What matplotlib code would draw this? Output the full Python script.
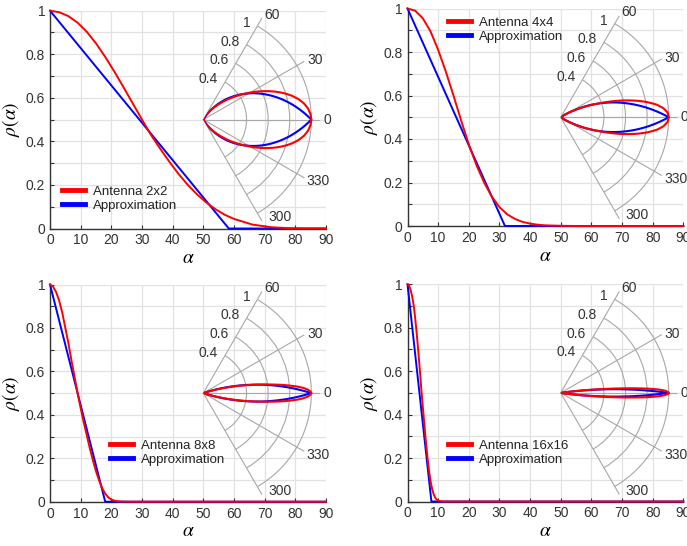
import numpy as np
import matplotlib
matplotlib.use('Agg')
import matplotlib.pyplot as plt
from matplotlib.ticker import MultipleLocator

plt.rcParams['font.family'] = ['Liberation Sans', 'DejaVu Sans']
plt.rcParams['mathtext.fontset'] = 'stix'

# ---------------- data ----------------
antenna_labels = ['Antenna 2x2', 'Antenna 4x4', 'Antenna 8x8', 'Antenna 16x16']
approx_label = 'Approximation'

alpha_2x2 = [0, 3, 6, 9, 12, 15, 18, 21, 24, 27, 30, 33, 36, 39, 42, 45, 48, 51, 54, 57, 60,
             66, 72, 78, 84, 90]
rho_2x2 = [1.0, 0.993, 0.975, 0.945, 0.903, 0.85, 0.788, 0.72, 0.648, 0.574, 0.500, 0.428,
           0.365, 0.305, 0.249, 0.199, 0.156, 0.119, 0.088, 0.063, 0.044,
           0.018, 0.006, 0.001, 0.0, 0.0]

alpha_4x4 = [0, 2.5, 5, 7.5, 10, 12.5, 15, 17.5, 20, 22.5, 25, 27.5, 30, 32.5, 35, 37.5, 40,
             42.5, 45, 50, 55, 90]
rho_4x4 = [1.0, 0.99, 0.955, 0.895, 0.81, 0.71, 0.60, 0.485, 0.375, 0.28, 0.20, 0.135, 0.087,
           0.054, 0.033, 0.019, 0.011, 0.006, 0.003, 0.001, 0.0, 0.0]

alpha_8x8 = [0, 1, 2, 3, 4, 5, 6, 7, 8, 9, 10, 11, 12, 13, 14, 15, 16, 17, 18, 19, 20, 21, 22,
             24, 26, 90]
rho_8x8 = [1.0, 0.99, 0.965, 0.925, 0.87, 0.80, 0.73, 0.65, 0.575, 0.50, 0.43, 0.365, 0.305,
           0.245, 0.19, 0.14, 0.098, 0.063, 0.037, 0.02, 0.01, 0.005, 0.002,
           0.0005, 0.0, 0.0]

alpha_16x16 = [0, 0.5, 1, 1.5, 2, 2.5, 3, 3.5, 4, 4.5, 5, 5.5, 6, 6.5, 7, 7.5, 8, 8.5, 9, 9.5,
               10, 11, 12, 90]
rho_16x16 = [1.0, 0.995, 0.975, 0.945, 0.905, 0.845, 0.775, 0.695, 0.61, 0.52, 0.435, 0.355,
             0.275, 0.205, 0.145, 0.095, 0.06, 0.035, 0.019, 0.009, 0.004, 0.001, 0.0, 0.0]

# linear approximation: 1 at alpha=0, reaching 0 at alpha_zero, then 0 up to 90
approx_zero = [58.3, 31.8, 18.0, 7.8]
approx_rho = [1.0, 0.0, 0.0]

alphas = [alpha_2x2, alpha_4x4, alpha_8x8, alpha_16x16]
rhos = [rho_2x2, rho_4x4, rho_8x8, rho_16x16]

x_ticks = [0, 10, 20, 30, 40, 50, 60, 70, 80, 90]
y_ticks = [0, 0.2, 0.4, 0.6, 0.8, 1.0]
y_ticklabels = ['0', '0.2', '0.4', '0.6', '0.8', '1']
polar_theta_grid = [-30, 0, 30]
polar_theta_labels = ['300', '330', '0', '30', '60']
polar_r_grid = [0.4, 0.6, 0.8, 1.0]
polar_r_labels = ['0.4', '0.6', '0.8', '1']

# ---------------- layout ----------------
W, H = 687, 546
fig = plt.figure(figsize=(W / 100, H / 100), dpi=100)

panel_px = [(50, 10.7, 326, 228.5), (407.5, 8.5, 683.3, 226),
            (50, 284.5, 326, 501.7), (407.5, 284.3, 683.3, 501.5)]
legend_anchor = [(0.0435, 0.198), (0.147, 0.964), (0.217, 0.287), (0.147, 0.286)]
R1 = 108.0     # pixel radius of r = 1 in polar inset
RMAX = 1.08
theta_label_pos = [(-51.8, 1.15), (-28.2, 1.21), (0, 1.145), (27.9, 1.17), (56.8, 1.16)]

RED = '#ff0000'
BLUE = '#0000ff'
PGRID = '#a8a8a8'

for i in range(4):
    l, t, r, b = panel_px[i]
    ax = fig.add_axes([l / W, 1 - b / H, (r - l) / W, (b - t) / H])
    ax.set_xlim(0, 90)
    ax.set_ylim(0, 1)
    ax.set_xticks(x_ticks)
    ax.set_yticks(y_ticks)
    ax.set_yticklabels(y_ticklabels)
    ax.yaxis.set_minor_locator(MultipleLocator(0.1))
    ax.grid(True, which='both', color='#e2e2e2', lw=0.9)
    ax.set_axisbelow(True)
    for s in ['top', 'right']:
        ax.spines[s].set_visible(False)
    for s in ['left', 'bottom']:
        ax.spines[s].set_color('#333333')
        ax.spines[s].set_linewidth(1.0)
    ax.tick_params(which='both', direction='in', length=3, width=0.8, color='#333333',
                   labelsize=10, labelcolor='#333333', pad=3.5)
    ax.set_xlabel(r'$\alpha$', fontsize=14, labelpad=2)
    ax.set_ylabel(r'$\rho(\alpha)$', fontsize=14, labelpad=2.5)

    ax.plot([0, approx_zero[i], 90], approx_rho, color=BLUE, lw=1.4, zorder=3,
            clip_on=False, label=approx_label)
    ax.plot(alphas[i], rhos[i], color=RED, lw=1.4, zorder=4, clip_on=False,
            label=antenna_labels[i])
    handles, labs = ax.get_legend_handles_labels()
    leg = ax.legend(handles[::-1], labs[::-1], loc='upper left',
                    bbox_to_anchor=legend_anchor[i], frameon=False, fontsize=9.5,
                    borderpad=0, borderaxespad=0, handlelength=1.75,
                    handletextpad=0.6, labelspacing=0.15)
    for h in leg.legend_handles:
        h.set_linewidth(3.5)
    for txt in leg.get_texts():
        txt.set_color('#222222')

    # ---- polar inset ----
    cx, cy = ax.transData.transform((50, 0.5))
    rmax_px = R1 * RMAX
    S = 2 * np.sin(np.pi / 3) * rmax_px
    bx = cx + rmax_px / 2 - S / 2
    by = cy - S / 2
    pax = fig.add_axes([bx / W, by / H, S / W, S / H], projection='polar')
    pax.set_facecolor('none')
    pax.set_thetamin(-60)
    pax.set_thetamax(60)
    pax.set_ylim(0, RMAX)
    pax.set_xticks(np.deg2rad(polar_theta_grid))
    pax.set_xticklabels([])
    pax.set_yticks(polar_r_grid)
    pax.set_yticklabels([])
    pax.tick_params(length=0)
    pax.grid(True, color=PGRID, lw=0.8)
    pax.spines['polar'].set_visible(False)
    pax.spines['inner'].set_visible(False)
    for s in ['start', 'end']:
        pax.spines[s].set_color(PGRID)
        pax.spines[s].set_linewidth(0.8)

    a = np.asarray(alphas[i], dtype=float)
    rr = np.asarray(rhos[i], dtype=float)
    th = np.deg2rad(np.concatenate([-a[::-1], a]))
    rv = np.concatenate([rr[::-1], rr])
    az = np.array([0, approx_zero[i], 90], dtype=float)
    ar = np.asarray(approx_rho)
    tha = np.deg2rad(np.concatenate([-az[::-1], az]))
    rva = np.concatenate([ar[::-1], ar])
    lb, = pax.plot(tha, rva, color=BLUE, lw=1.5, zorder=3)
    lr, = pax.plot(th, rv, color=RED, lw=1.5, zorder=4)
    # let matplotlib follow the polar geometry between data points
    lb.get_path()._interpolation_steps = 200
    lr.get_path()._interpolation_steps = 20

    for (ang, rad), lab in zip(theta_label_pos, polar_theta_labels):
        pax.text(np.deg2rad(ang), rad, lab, ha='center', va='center', fontsize=10,
                 color='#333333', clip_on=False)
    for rad, lab in zip(polar_r_grid, polar_r_labels):
        pax.annotate(lab, xy=(np.deg2rad(60), rad), xytext=(-7, 3),
                     textcoords='offset pixels', ha='right', va='center', fontsize=10,
                     color='#333333', annotation_clip=False)

fig.savefig('out.png', dpi=100)
